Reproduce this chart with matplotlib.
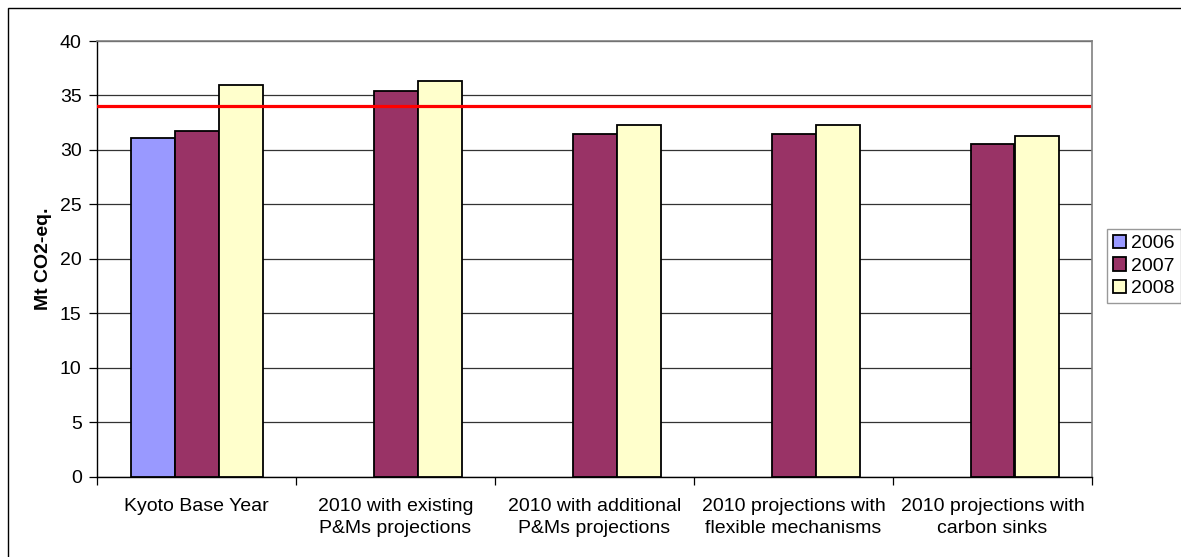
import matplotlib
matplotlib.use("Agg")
import matplotlib.pyplot as plt
import numpy as np
from matplotlib.patches import Rectangle

categories = ["Kyoto Base Year",
              "2010 with existing\nP&Ms projections",
              "2010 with additional\nP&Ms projections",
              "2010 projections with\nflexible mechanisms",
              "2010 projections with\ncarbon sinks"]
series_names = ["2006", "2007", "2008"]
v2006 = [31.1, np.nan, np.nan, np.nan, np.nan]
v2007 = [31.7, 35.4, 31.5, 31.5, 30.5]
v2008 = [36.0, 36.3, 32.3, 32.3, 31.3]
target = 34.0
colors = ["#9999FF", "#993366", "#FFFFCC"]
yticks = list(range(0, 41, 5))

plt.rcParams['font.family'] = ['Liberation Sans', 'DejaVu Sans']

fig = plt.figure(figsize=(11.81, 5.57), dpi=100)
W, H = 1181, 557
ax = fig.add_axes([97 / W, 1 - 476.7 / H, (1092 - 97) / W, (476.7 - 41) / H])

x = np.arange(len(categories))
bw = 44 / 199
for i, (vals, c, name) in enumerate(zip([v2006, v2007, v2008], colors, series_names)):
    ax.bar(x + (i - 1) * bw, vals, width=bw, color=c, edgecolor="black",
           linewidth=1.3, label=name, zorder=3)

ax.axhline(target, xmin=0, xmax=0.997, color="#FF0000", linewidth=2.3, zorder=4)

ax.set_xlim(-0.5, len(categories) - 0.5)
ax.set_ylim(0, 40)
ax.set_yticks(yticks)
ax.yaxis.grid(True, color="#333333", linewidth=0.9, zorder=0)
ax.set_axisbelow(True)

ax.set_xticks(x)
ax.set_xticklabels(categories, fontsize=14, linespacing=1.4)
ax.set_xticks(np.arange(-0.5, len(categories) + 0.5, 1), minor=True)
ax.tick_params(axis="x", which="major", length=0, pad=15)
ax.tick_params(axis="x", which="minor", length=6, width=0.9, direction="out")
ax.tick_params(axis="y", length=6, width=0.9, direction="out", labelsize=14, pad=5)

for s in ["top", "right"]:
    ax.spines[s].set_color("#808080")
    ax.spines[s].set_linewidth(1.2)
for s in ["left", "bottom"]:
    ax.spines[s].set_color("black")
    ax.spines[s].set_linewidth(1.0)

ax.set_ylabel("Mt CO2-eq.", fontsize=14, fontweight="bold", labelpad=6)

leg = ax.legend(loc="upper left", bbox_to_anchor=(1107 / W, 1 - 229 / H),
                bbox_transform=fig.transFigure, frameon=True, fancybox=False,
                fontsize=14, handlelength=0.7, handleheight=0.7,
                handletextpad=0.25, borderpad=0.3, labelspacing=0.25,
                borderaxespad=0)
leg.get_frame().set_edgecolor("#808080")
leg.get_frame().set_linewidth(1.0)

fig.patches.append(Rectangle((8 / W, -0.05), 1.2, 1 - 8 / H + 0.05,
                             transform=fig.transFigure, fill=False,
                             edgecolor="black", linewidth=1.0))

fig.savefig("out.png", dpi=100)
